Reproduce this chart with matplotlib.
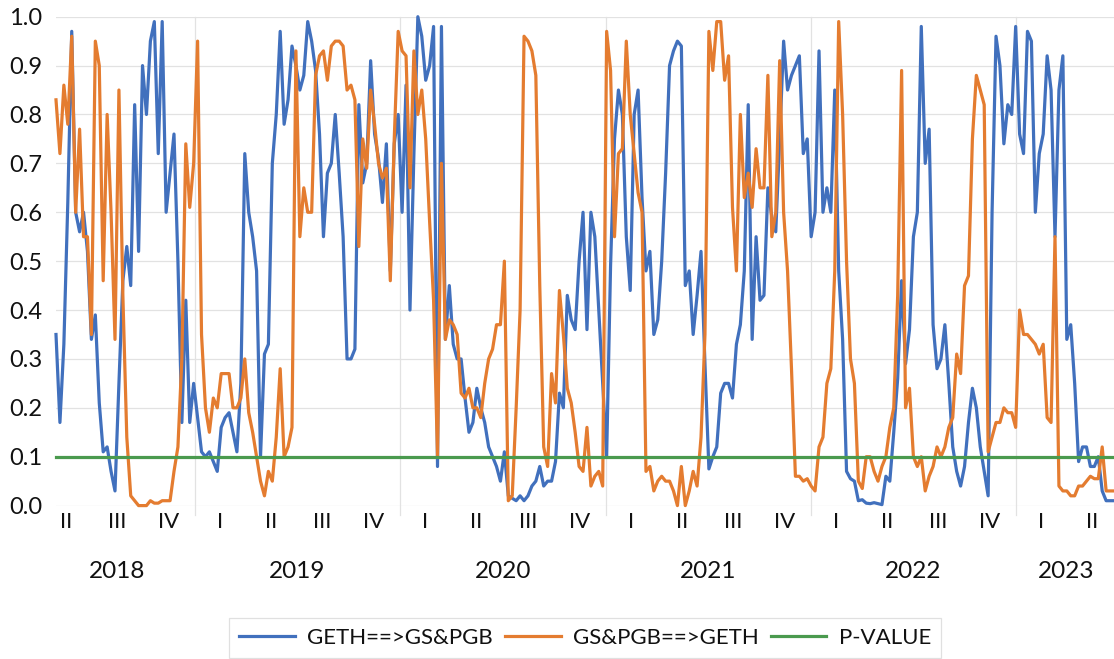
import matplotlib
matplotlib.use('Agg')
import matplotlib.pyplot as plt
import matplotlib.transforms as mtransforms
import pandas as pd
import numpy as np

plt.rcParams['font.family'] = ['Lato', 'DejaVu Sans']

# ---------------- data (weekly observations) ----------------
start_date = '2018-04-29'

geth_to_gs_pgb = [
    0.35, 0.17, 0.33, 0.62, 0.97, 0.60, 0.56, 0.60, 0.52, 0.34,
    0.39, 0.21, 0.11, 0.12, 0.07, 0.03, 0.25, 0.46, 0.53, 0.45,
    0.82, 0.52, 0.90, 0.80, 0.95, 0.99, 0.72, 0.99, 0.60, 0.68,
    0.76, 0.50, 0.17, 0.42, 0.17, 0.25, 0.18, 0.11, 0.10, 0.11,
    0.09, 0.07, 0.16, 0.18, 0.19, 0.15, 0.11, 0.25, 0.72, 0.60,
    0.55, 0.48, 0.10, 0.31, 0.33, 0.70, 0.80, 0.97, 0.78, 0.83,
    0.94, 0.90, 0.85, 0.88, 0.99, 0.95, 0.89, 0.76, 0.55, 0.68,
    0.70, 0.80, 0.68, 0.55, 0.30, 0.30, 0.32, 0.82, 0.66, 0.70,
    0.91, 0.76, 0.71, 0.62, 0.74, 0.48, 0.74, 0.80, 0.60, 0.86,
    0.40, 0.72, 1.00, 0.96, 0.87, 0.90, 0.98, 0.08, 0.98, 0.34,
    0.45, 0.33, 0.30, 0.30, 0.22, 0.15, 0.17, 0.24, 0.20, 0.17,
    0.12, 0.10, 0.08, 0.05, 0.11, 0.02, 0.015, 0.01, 0.02, 0.01,
    0.02, 0.04, 0.05, 0.08, 0.04, 0.05, 0.05, 0.09, 0.23, 0.20,
    0.43, 0.38, 0.36, 0.50, 0.60, 0.36, 0.60, 0.55, 0.40, 0.25,
    0.10, 0.49, 0.75, 0.85, 0.80, 0.55, 0.44, 0.80, 0.85, 0.63,
    0.48, 0.52, 0.35, 0.38, 0.50, 0.68, 0.90, 0.93, 0.95, 0.94,
    0.45, 0.48, 0.35, 0.43, 0.52, 0.29, 0.075, 0.10, 0.12, 0.23,
    0.25, 0.25, 0.22, 0.33, 0.37, 0.48, 0.82, 0.34, 0.55, 0.42,
    0.43, 0.65, 0.59, 0.56, 0.75, 0.95, 0.85, 0.88, 0.90, 0.92,
    0.72, 0.75, 0.55, 0.60, 0.93, 0.60, 0.65, 0.60, 0.85, 0.48,
    0.34, 0.07, 0.055, 0.05, 0.01, 0.012, 0.005, 0.004, 0.006, 0.004,
    0.002, 0.06, 0.05, 0.15, 0.26, 0.46, 0.29, 0.36, 0.55, 0.60,
    0.98, 0.70, 0.77, 0.37, 0.28, 0.30, 0.37, 0.25, 0.12, 0.07,
    0.04, 0.08, 0.17, 0.24, 0.20, 0.12, 0.07, 0.02, 0.60, 0.96,
    0.90, 0.74, 0.82, 0.80, 0.98, 0.76, 0.72, 0.97, 0.95, 0.60,
    0.72, 0.76, 0.92, 0.85, 0.55, 0.85, 0.92, 0.34, 0.37, 0.25,
    0.09, 0.12, 0.12, 0.08, 0.08, 0.10, 0.03, 0.01, 0.01, 0.01,
]

gs_pgb_to_geth = [
    0.83, 0.72, 0.86, 0.78, 0.96, 0.60, 0.77, 0.55, 0.55, 0.35,
    0.95, 0.90, 0.46, 0.80, 0.60, 0.34, 0.85, 0.43, 0.14, 0.02,
    0.01, 0.00, 0.00, 0.00, 0.01, 0.005, 0.005, 0.01, 0.01, 0.01,
    0.07, 0.12, 0.30, 0.74, 0.61, 0.70, 0.95, 0.35, 0.20, 0.15,
    0.22, 0.20, 0.27, 0.27, 0.27, 0.20, 0.20, 0.22, 0.30, 0.19,
    0.15, 0.10, 0.05, 0.02, 0.07, 0.05, 0.14, 0.28, 0.10, 0.12,
    0.16, 0.93, 0.55, 0.65, 0.60, 0.60, 0.88, 0.92, 0.93, 0.87,
    0.94, 0.95, 0.95, 0.94, 0.85, 0.86, 0.83, 0.53, 0.75, 0.69,
    0.85, 0.78, 0.70, 0.67, 0.69, 0.46, 0.75, 0.97, 0.93, 0.92,
    0.65, 0.93, 0.80, 0.85, 0.75, 0.58, 0.42, 0.10, 0.70, 0.34,
    0.38, 0.37, 0.35, 0.23, 0.22, 0.24, 0.20, 0.20, 0.18, 0.25,
    0.30, 0.32, 0.37, 0.37, 0.50, 0.01, 0.02, 0.20, 0.40, 0.96,
    0.95, 0.93, 0.88, 0.45, 0.12, 0.08, 0.27, 0.21, 0.44, 0.35,
    0.24, 0.21, 0.15, 0.08, 0.07, 0.16, 0.04, 0.06, 0.07, 0.04,
    0.97, 0.89, 0.55, 0.72, 0.73, 0.95, 0.80, 0.72, 0.64, 0.60,
    0.07, 0.08, 0.03, 0.05, 0.06, 0.05, 0.05, 0.03, 0.00, 0.08,
    0.00, 0.03, 0.07, 0.04, 0.14, 0.35, 0.97, 0.89, 0.99, 0.99,
    0.87, 0.92, 0.61, 0.48, 0.80, 0.63, 0.68, 0.61, 0.73, 0.65,
    0.65, 0.88, 0.55, 0.60, 0.91, 0.60, 0.48, 0.28, 0.06, 0.06,
    0.05, 0.055, 0.04, 0.03, 0.12, 0.14, 0.25, 0.28, 0.48, 0.99,
    0.80, 0.50, 0.30, 0.25, 0.05, 0.035, 0.10, 0.10, 0.07, 0.05,
    0.08, 0.10, 0.16, 0.20, 0.43, 0.89, 0.20, 0.24, 0.10, 0.08,
    0.10, 0.03, 0.06, 0.08, 0.12, 0.10, 0.12, 0.16, 0.18, 0.31,
    0.27, 0.45, 0.47, 0.75, 0.88, 0.85, 0.82, 0.11, 0.14, 0.17,
    0.17, 0.20, 0.19, 0.19, 0.16, 0.40, 0.35, 0.35, 0.34, 0.33,
    0.31, 0.33, 0.18, 0.17, 0.55, 0.04, 0.03, 0.03, 0.02, 0.02,
    0.04, 0.04, 0.05, 0.06, 0.055, 0.055, 0.12, 0.03, 0.03, 0.03,
]

p_value = 0.10

series_names = ['GETH==>GS&PGB', 'GS&PGB==>GETH', 'P-VALUE']
quarter_labels = ['I', 'II', 'III', 'IV']
y_ticks = [0.0, 0.1, 0.2, 0.3, 0.4, 0.5, 0.6, 0.7, 0.8, 0.9, 1.0]

# ---------------- styling ----------------
BLUE = '#4170BD'
ORANGE = '#E47C30'
GREEN = '#4A9A4E'
GRID = '#E2E2E2'
TEXT = '#111111'
FS = 16
LW = 2.3

dates = pd.date_range(start_date, periods=len(geth_to_gs_pgb), freq='7D')

W, H = 1114, 659
fig = plt.figure(figsize=(W / 100, H / 100), dpi=100)
ax = fig.add_axes([56 / W, 1 - 505.6 / H, 1058 / W, (505.6 - 16.7) / H])

ax.plot(dates, geth_to_gs_pgb, color=BLUE, lw=LW, clip_on=False,
        label=series_names[0], zorder=3)
ax.plot(dates, gs_pgb_to_geth, color=ORANGE, lw=LW, clip_on=False,
        label=series_names[1], zorder=4)
ax.plot(dates, [p_value] * len(dates), color=GREEN, lw=LW, clip_on=False,
        label=series_names[2], zorder=5)

ax.set_xlim(dates[0], dates[-1])
ax.set_ylim(0, 1)
ax.set_yticks(y_ticks)
ax.set_yticklabels([f'{v:.1f}' for v in y_ticks], fontsize=17, color=TEXT)
ax.tick_params(axis='y', length=0, pad=10)
ax.set_xticks([])
ax.yaxis.grid(True, color=GRID, lw=0.9)
ax.set_axisbelow(True)
for s in ax.spines.values():
    s.set_visible(False)

# year separators
first_year = dates[0].year
last_year = dates[-1].year
for y in range(first_year + 1, last_year + 1):
    ax.axvline(pd.Timestamp(f'{y}-01-01'), ymin=-0.02, ymax=1, color=GRID,
               lw=0.9, zorder=1, clip_on=False)

# quarter and year labels
trans = mtransforms.blended_transform_factory(ax.transData, fig.transFigure)
y_q = 1 - 522 / H
y_y = 1 - 571 / H
for y in range(first_year, last_year + 1):
    present = []
    for qi in range(4):
        qs = pd.Timestamp(year=y, month=3 * qi + 1, day=1)
        qe = qs + pd.DateOffset(months=3)
        mid = qs + (qe - qs) / 2
        if dates[0] <= mid <= dates[-1]:
            present.append((qs, qe))
            ax.text(mid, y_q, quarter_labels[qi], transform=trans, ha='center',
                    va='center', fontsize=FS, color=TEXT)
    if present:
        lo = present[0][0]
        hi = present[-1][1]
        ax.text(lo + (hi - lo) / 2, y_y, str(y), transform=trans, ha='center',
                va='center', fontsize=17.5, color=TEXT)

handles, labels = ax.get_legend_handles_labels()
leg = fig.legend(handles, labels, loc='center',
                 bbox_to_anchor=(585 / W, 1 - 637.5 / H), ncol=3,
                 frameon=True, fancybox=False, fontsize=FS,
                 handlelength=2.5, handletextpad=0.55, columnspacing=0.55,
                 borderpad=0.45)
leg.get_frame().set_edgecolor('#D9D9D9')
leg.get_frame().set_linewidth(0.9)
for t in leg.get_texts():
    t.set_color(TEXT)

fig.savefig('out.png', dpi=100)
